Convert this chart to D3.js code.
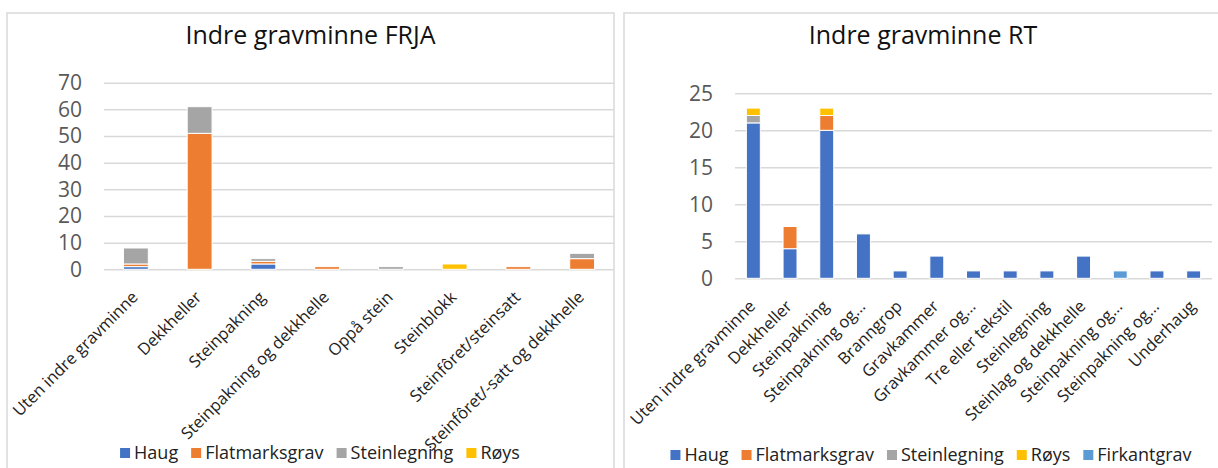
<!DOCTYPE html>
<html>
<head>
<meta charset="utf-8">
<script src="https://cdn.jsdelivr.net/npm/d3@7"></script>
<style>
  body { margin: 0; background: #fff; }
  svg { font-family: "Open Sans", sans-serif; display: block; }
</style>
</head>
<body>
<svg width="1218" height="468"></svg>
<script>
// ---- data (left: FRJA) ----
var leftCats = ["Uten indre gravminne", "Dekkheller", "Steinpakning", "Steinpakning og dekkhelle",
  "Oppå stein", "Steinblokk", "Steinfôret/steinsatt", "Steinfôret/-satt og dekkhelle"];
var leftHaug  = [1, 0, 2, 0, 0, 0, 0, 0];
var leftFlat  = [1, 51, 1, 1, 0, 0, 1, 4];
var leftStein = [6, 10, 1, 0, 1, 0, 0, 2];
var leftRoys  = [0, 0, 0, 0, 0, 2, 0, 0];
var leftTicks = [0, 10, 20, 30, 40, 50, 60, 70];

// ---- data (right: RT) ----
var rightCats = ["Uten indre gravminne", "Dekkheller", "Steinpakning", "Steinpakning og…", "Branngrop",
  "Gravkammer", "Gravkammer og…", "Tre eller tekstil", "Steinlegning", "Steinlag og dekkhelle",
  "Steinpakning og…", "Steinpakning og…", "Underhaug"];
var rightHaug    = [21, 4, 20, 6, 1, 3, 1, 1, 1, 3, 0, 1, 1];
var rightFlat    = [0, 3, 2, 0, 0, 0, 0, 0, 0, 0, 0, 0, 0];
var rightStein   = [1, 0, 0, 0, 0, 0, 0, 0, 0, 0, 0, 0, 0];
var rightRoys    = [1, 0, 1, 0, 0, 0, 0, 0, 0, 0, 0, 0, 0];
var rightFirkant = [0, 0, 0, 0, 0, 0, 0, 0, 0, 0, 1, 0, 0];
var rightTicks = [0, 5, 10, 15, 20, 25];

var seriesNames = ["Haug", "Flatmarksgrav", "Steinlegning", "Røys", "Firkantgrav"];
var colors = {"Haug": "#4472C4", "Flatmarksgrav": "#ED7D31", "Steinlegning": "#A5A5A5",
  "Røys": "#FFC000", "Firkantgrav": "#5B9BD5"};

var svg = d3.select("svg");

// panel borders
svg.append("rect").attr("x", 7).attr("y", 13).attr("width", 607).attr("height", 480)
  .attr("fill", "none").attr("stroke", "#d9d9d9").attr("stroke-width", 1.5);
svg.append("rect").attr("x", 624).attr("y", 13).attr("width", 610).attr("height", 480)
  .attr("fill", "none").attr("stroke", "#d9d9d9").attr("stroke-width", 1.5);

function drawChart(o) {
  var keys = o.keys;
  var rows = o.cats.map(function(c, i) {
    var r = {idx: i};
    keys.forEach(function(k) { r[k] = o.values[k][i]; });
    return r;
  });

  var x = d3.scaleBand().domain(d3.range(o.cats.length))
    .range([o.left, o.right]).paddingInner(o.pad).paddingOuter(o.pad / 2);
  var y = d3.scaleLinear().domain([0, o.max]).range([o.bottom, o.top]);

  // title
  svg.append("text").attr("x", o.titleX).attr("y", 44)
    .attr("text-anchor", "middle").attr("font-size", 25).attr("fill", "#111")
    .text(o.title);

  // y axis + gridlines
  var ya = svg.append("g").attr("transform", "translate(" + o.left + ",0)")
    .call(d3.axisLeft(y).tickValues(o.ticks).tickSize(-(o.right - o.left)).tickPadding(22));
  ya.select(".domain").remove();
  ya.selectAll("line").attr("stroke", "#d9d9d9").attr("stroke-width", 1.5);
  ya.selectAll("text").attr("font-size", 21).attr("fill", "#595959")
    .attr("font-family", "Open Sans, sans-serif");

  // bars
  var stacked = d3.stack().keys(keys)(rows);
  svg.append("g").selectAll("g").data(stacked).join("g")
    .attr("fill", function(d) { return colors[d.key]; })
    .selectAll("rect").data(function(d) { return d.filter(function(p) { return p[1] > p[0]; }); })
    .join("rect")
    .attr("x", function(d) { return x(d.data.idx); })
    .attr("y", function(d) { return y(d[1]); })
    .attr("width", x.bandwidth())
    .attr("height", function(d) { return y(d[0]) - y(d[1]); })
    .attr("stroke", "#fff").attr("stroke-width", 1);

  // x axis labels
  var xa = svg.append("g").attr("transform", "translate(0," + o.bottom + ")")
    .call(d3.axisBottom(x).tickSize(0).tickFormat(function(i) { return o.cats[i]; }));
  xa.select(".domain").remove();
  xa.selectAll("text").attr("font-size", 16.5).attr("fill", "#222")
    .attr("font-family", "Open Sans, sans-serif")
    .attr("text-anchor", "end").attr("x", 0).attr("y", 0).attr("dy", 0)
    .attr("transform", "translate(3,29) rotate(-45)");

  // legend
  var lg = svg.append("g");
  var cx = 0;
  keys.forEach(function(k) {
    var it = lg.append("g").attr("transform", "translate(" + cx + ",0)");
    it.append("rect").attr("x", 0).attr("y", -5).attr("width", 10).attr("height", 10)
      .attr("fill", colors[k]);
    var t = it.append("text").attr("x", 14).attr("y", 0).attr("dy", "0.35em")
      .attr("font-size", 18).attr("fill", "#222").text(k);
    cx += 14 + t.node().getComputedTextLength() + 13;
  });
  var w = cx - 13;
  lg.attr("transform", "translate(" + (o.legendX - w / 2) + "," + o.legendY + ")");
}

drawChart({
  title: "Indre gravminne FRJA", titleX: 310.5,
  cats: leftCats, keys: seriesNames.slice(0, 4),
  values: {"Haug": leftHaug, "Flatmarksgrav": leftFlat, "Steinlegning": leftStein, "Røys": leftRoys},
  max: 70, ticks: leftTicks,
  left: 104, right: 614, top: 82.7, bottom: 269.3, pad: 0.61,
  legendX: 320, legendY: 453
});

drawChart({
  title: "Indre gravminne RT", titleX: 923,
  cats: rightCats, keys: seriesNames,
  values: {"Haug": rightHaug, "Flatmarksgrav": rightFlat, "Steinlegning": rightStein,
    "Røys": rightRoys, "Firkantgrav": rightFirkant},
  max: 25, ticks: rightTicks,
  left: 735, right: 1212, top: 93.3, bottom: 278.3, pad: 0.62,
  legendX: 931, legendY: 455
});
</script>
</body>
</html>
